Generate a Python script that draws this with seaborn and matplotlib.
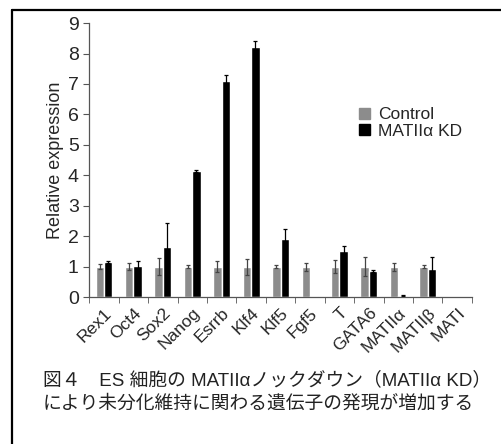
import numpy as np
import pandas as pd
import matplotlib
matplotlib.use("Agg")
import matplotlib.pyplot as plt
from matplotlib.lines import Line2D
from matplotlib.patches import Patch
import seaborn as sns

genes = ["Rex1", "Oct4", "Sox2", "Nanog", "Esrrb", "Klf4", "Klf5", "Fgf5",
         "T", "GATA6", "MATIIα", "MATIIβ", "MATI"]
control = [1, 1, 1, 1, 1, 1, 1, 1, 1, 1, 1, 1, 0]
control_err = [0.08, 0.12, 0.27, 0.05, 0.18, 0.26, 0.04, 0.13, 0.21, 0.30, 0.13, 0.04, 0]
kd = [1.15, 1.03, 1.66, 4.13, 7.10, 8.23, 1.92, 0.02, 1.51, 0.86, 0.05, 0.93, 0]
kd_err = [0.02, 0.17, 0.77, 0.03, 0.20, 0.17, 0.32, 0.0, 0.17, 0.04, 0.01, 0.37, 0]
groups = ["Control", "MATIIα KD"]
colors = ["#8c8c8c", "#000000"]

df = pd.DataFrame({
    "gene": genes * 2,
    "group": [groups[0]] * len(genes) + [groups[1]] * len(genes),
    "value": control + kd,
})

sns.set_style("white")
plt.rcParams["font.family"] = ["Liberation Sans", "Noto Sans CJK JP"]

fig = plt.figure(figsize=(5.01, 4.44), dpi=100)
ax = fig.add_axes([0.178, 0.331, 0.764, 0.617])

sns.barplot(data=df, x="gene", y="value", hue="group", palette=colors,
            width=0.57, errorbar=None, saturation=1, ax=ax, legend=False)

# error bars on top of each bar
errs = control_err + kd_err
ecolors = ["#444444"] * len(genes) + ["#000000"] * len(genes)
for p, e, c in zip(ax.patches, errs, ecolors):
    if e <= 0:
        continue
    xc = p.get_x() + p.get_width() / 2
    ax.errorbar(xc, p.get_height(), yerr=e, color=c, lw=0.9,
                capsize=1.6, capthick=0.9, fmt="none")

ax.set_ylim(0, 9)
ax.set_xlim(-0.5, len(genes) - 0.5)
ax.set_yticks(range(10))
ax.set_xlabel("")
ax.set_ylabel("Relative expression", fontsize=13, labelpad=3)
for s in ["top", "right"]:
    ax.spines[s].set_visible(False)
for s in ["left", "bottom"]:
    ax.spines[s].set_color("#555555")
    ax.spines[s].set_linewidth(0.9)

ax.set_xticks(np.arange(len(genes)))
ax.set_xticklabels(genes, rotation=45, ha="right", rotation_mode="anchor",
                   fontsize=12.5)
ax.set_xticks(np.arange(len(genes) + 1) - 0.5, minor=True)
ax.tick_params(axis="x", which="major", length=0, pad=6)
ax.tick_params(axis="x", which="minor", length=4, color="#555555", direction="out")
ax.tick_params(axis="y", length=4, color="#555555", direction="out", labelsize=14)
ax.tick_params(axis="both", which="both", bottom=True, left=True)

handles = [Patch(color=c) for c in colors]
ax.legend(handles, groups, loc="center left", bbox_to_anchor=(0.665, 0.635),
          frameon=False, fontsize=12.5, handlelength=0.6, handleheight=0.6,
          handletextpad=0.5, labelspacing=0.1)

# caption
cap_font = ["Liberation Sans", "Noto Sans CJK JP"]
fig.text(0.085, 0.144, "図４　ES 細胞の MATIIαノックダウン（MATIIα KD）",
         fontsize=13.5, family=cap_font, va="center", color="#222222")
fig.text(0.085, 0.090, "により未分化維持に関わる遺伝子の発現が増加する",
         fontsize=13.5, family=cap_font, va="center", color="#222222")

# outer frame (left and top)
fig.add_artist(Line2D([0.024, 0.024], [0, 0.977], color="black", lw=1.6,
                      transform=fig.transFigure))
fig.add_artist(Line2D([0.024, 1], [0.977, 0.977], color="black", lw=1.6,
                      transform=fig.transFigure))

fig.savefig("out.png", dpi=100)
